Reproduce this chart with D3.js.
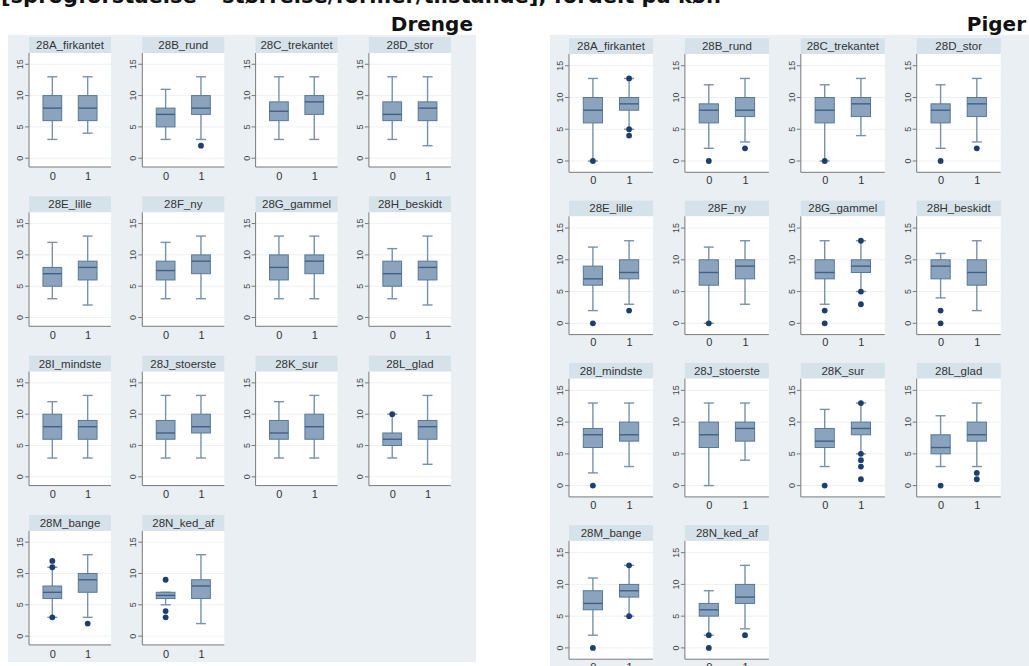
<!DOCTYPE html>
<html><head><meta charset="utf-8">
<script src="https://cdn.jsdelivr.net/npm/d3@7"></script>
<style>body{margin:0;background:#fff}svg{display:block}</style>
</head><body>
<svg id="c" width="1029" height="666"></svg>
<script>
// ---------------- DATA ----------------
const titleText = "[sprogforståelse – størrelse/former/tilstande], fordelt på køn";
const panels = ["Drenge", "Piger"];
const categories = ["28A_firkantet","28B_rund","28C_trekantet","28D_stor","28E_lille","28F_ny","28G_gammel","28H_beskidt","28I_mindste","28J_stoerste","28K_sur","28L_glad","28M_bange","28N_ked_af"];
const groups = ["0","1"];
const yTicks = [0,5,10,15];
// each entry: [lower whisker, Q1, median, Q3, upper whisker]
const drengeStats0 = [[3,6,8,10,13],[3,5,7,8,11],[3,6,7.5,9,13],[3,6,7,9,13],[3,5,7,8,12],[3,6,7.5,9,12],[3,6,8,10,13],[3,5,7,9,11],[3,6,8,10,12],[3,6,7,9,13],[3,6,7,9,12],[3,5,6,7,10],[3,6,7,8,11],[5,6,6.5,7,7]];
const drengeStats1 = [[4,6,8,10,13],[3,7,8,10,13],[3,7,9,10,13],[2,6,8,9,13],[2,6,8,9,13],[3,7,9,10,13],[3,7,9,10,13],[2,6,8,9,13],[3,6,8,9,13],[3,7,8,10,13],[3,6,8,10,13],[2,6,8,9,13],[3,7,9,10,13],[2,6,8,9,13]];
const drengeOut0 = [[],[],[],[],[],[],[],[],[],[],[],[10],[12,11,3],[9,4,3]];
const drengeOut1 = [[],[2],[],[],[],[],[],[],[],[],[],[],[2],[]];
const pigerStats0 = [[0,6,8,10,13],[2,6,8,9,12],[0,6,8,10,12],[2,6,8,9,12],[2,6,7,9,12],[0,6,8,10,12],[3,7,8,10,13],[4,7,9,10,11],[2,6,8,9,13],[0,6,8,10,13],[3,6,7,9,12],[3,5,6,8,11],[2,6,7,9,11],[2,5,6,7,9]];
const pigerStats1 = [[5,8,9,10,13],[3,7,8,10,13],[4,7,9,10,13],[3,7,9,10,13],[3,7,8,10,13],[3,7,9,10,13],[5,8,9,10,13],[2,6,8,10,13],[3,7,8,10,13],[4,7,9,10,13],[5,8,9,10,13],[3,7,8,10,13],[5,8,9,10,13],[3,7,8,10,13]];
const pigerOut0 = [[0],[0],[0],[0],[0],[0],[2,0],[2,0],[0],[],[0],[0],[0],[2,0]];
const pigerOut1 = [[13,5,4],[2],[],[2],[2],[],[13,5,3],[],[],[],[13,5,4,3,1],[2,1],[13,5],[2]];

// ---------------- LAYOUT ----------------
const layouts = [
  {label: panels[0], stats:[drengeStats0, drengeStats1], outs:[drengeOut0, drengeOut1],
   bg:[8,35,468,627], labelX:473, x0:29, colStep:113.3, plotW:82, stripTop:37, stripH:16, plotH:114, rowStep:159.3, yDom:[-1.4,16.8], xPad:5},
  {label: panels[1], stats:[pigerStats0, pigerStats1], outs:[pigerOut0, pigerOut1],
   bg:[550,35,479,631], labelX:1026, x0:569, colStep:115.9, plotW:84, stripTop:38.3, stripH:15.7, plotH:118.3, rowStep:162.3, yDom:[-1.78,16.85], xPad:4}
];
const C = {panelBg:"#e9eff3", strip:"#d6e2ea", boxFill:"#8ca3bd", boxStroke:"#56789a", median:"#3f6187", whisker:"#7891ad", dot:"#1c3f6e", axis:"#7a7a7a", grid:"#edf1f5", text:"#333"};

const svg = d3.select("#c");
svg.append("text").attr("x",1).attr("y",2.5).attr("font-family","DejaVu Sans").attr("font-weight","bold")
  .attr("font-size",21).attr("fill","#111").text(titleText);

layouts.forEach(L => {
  svg.append("text").attr("x",L.labelX).attr("y",31).attr("text-anchor","end")
    .attr("font-family","DejaVu Sans").attr("font-weight","bold").attr("font-size",20).attr("fill","#111").text(L.label);
  svg.append("rect").attr("x",L.bg[0]).attr("y",L.bg[1]).attr("width",L.bg[2]).attr("height",L.bg[3]).attr("fill",C.panelBg);

  const x = d3.scalePoint().domain(groups).range([0,L.plotW]).padding(0.66);
  const y = d3.scaleLinear().domain(L.yDom).range([L.plotH,0]);
  const bw = x.step()*0.53, cw = 10;

  categories.forEach((cat,i) => {
    const col = i % 4, row = Math.floor(i/4);
    const gx = L.x0 + col*L.colStep, gy = L.stripTop + row*L.rowStep;
    const g = svg.append("g").attr("transform",`translate(${gx},${gy})`);
    g.append("rect").attr("x",0).attr("y",0).attr("width",L.plotW).attr("height",L.stripH).attr("fill",C.strip);
    g.append("text").attr("x",L.plotW/2).attr("y",L.stripH/2+4).attr("text-anchor","middle")
      .attr("font-family","Liberation Sans, Arial").attr("font-size",11.5).attr("fill",C.text).text(cat);
    const p = g.append("g").attr("transform",`translate(0,${L.stripH})`);
    p.append("rect").attr("width",L.plotW).attr("height",L.plotH).attr("fill","#fff");
    p.selectAll("line.grid").data(yTicks).join("line").attr("class","grid")
      .attr("x1",0).attr("x2",L.plotW).attr("y1",d=>y(d)).attr("y2",d=>y(d)).attr("stroke",C.grid).attr("stroke-width",1);

    groups.forEach((gr,k) => {
      const s = L.stats[k][i], cx = x(gr);
      const bx = p.append("g");
      bx.append("line").attr("x1",cx).attr("x2",cx).attr("y1",y(s[0])).attr("y2",y(s[1])).attr("stroke",C.whisker).attr("stroke-width",1.4);
      bx.append("line").attr("x1",cx).attr("x2",cx).attr("y1",y(s[3])).attr("y2",y(s[4])).attr("stroke",C.whisker).attr("stroke-width",1.4);
      [s[0],s[4]].forEach(v => bx.append("line").attr("x1",cx-cw/2).attr("x2",cx+cw/2).attr("y1",y(v)).attr("y2",y(v)).attr("stroke",C.whisker).attr("stroke-width",1.4));
      bx.append("rect").attr("x",cx-bw/2).attr("y",y(s[3])).attr("width",bw).attr("height",Math.max(0.5,y(s[1])-y(s[3])))
        .attr("fill",C.boxFill).attr("stroke",C.boxStroke).attr("stroke-width",1);
      bx.append("line").attr("x1",cx-bw/2).attr("x2",cx+bw/2).attr("y1",y(s[2])).attr("y2",y(s[2])).attr("stroke",C.median).attr("stroke-width",1.4);
      bx.selectAll("circle").data(L.outs[k][i]).join("circle").attr("cx",cx).attr("cy",d=>y(d)).attr("r",2.9).attr("fill",C.dot);
    });

    const ya = d3.axisLeft(y).tickValues(yTicks).tickSize(4).tickPadding(3);
    const yg = p.append("g").call(ya);
    yg.select(".domain").attr("stroke",C.axis).attr("d",`M0,0V${L.plotH}`);
    yg.selectAll(".tick").each(function(d){
      const t = d3.select(this); t.attr("transform",null);
      t.select("line").attr("stroke",C.axis).attr("y1",y(d)).attr("y2",y(d)).attr("x2",-4);
      t.select("text").attr("font-family","Liberation Sans, Arial").attr("font-size",9).attr("fill","#444")
        .attr("text-anchor","middle").attr("dy","0").attr("transform","rotate(-90)").attr("x",-y(d)).attr("y",-6);
    });
    const xa = d3.axisBottom(x).tickSize(0).tickPadding(L.xPad);
    const xg = p.append("g").attr("transform",`translate(0,${L.plotH})`).call(xa);
    xg.select(".domain").attr("stroke",C.axis).attr("d",`M0,0H${L.plotW}`);
    xg.selectAll(".tick text").attr("font-family","Liberation Sans, Arial").attr("font-size",11).attr("fill",C.text);
  });
});
</script>
</body></html>
